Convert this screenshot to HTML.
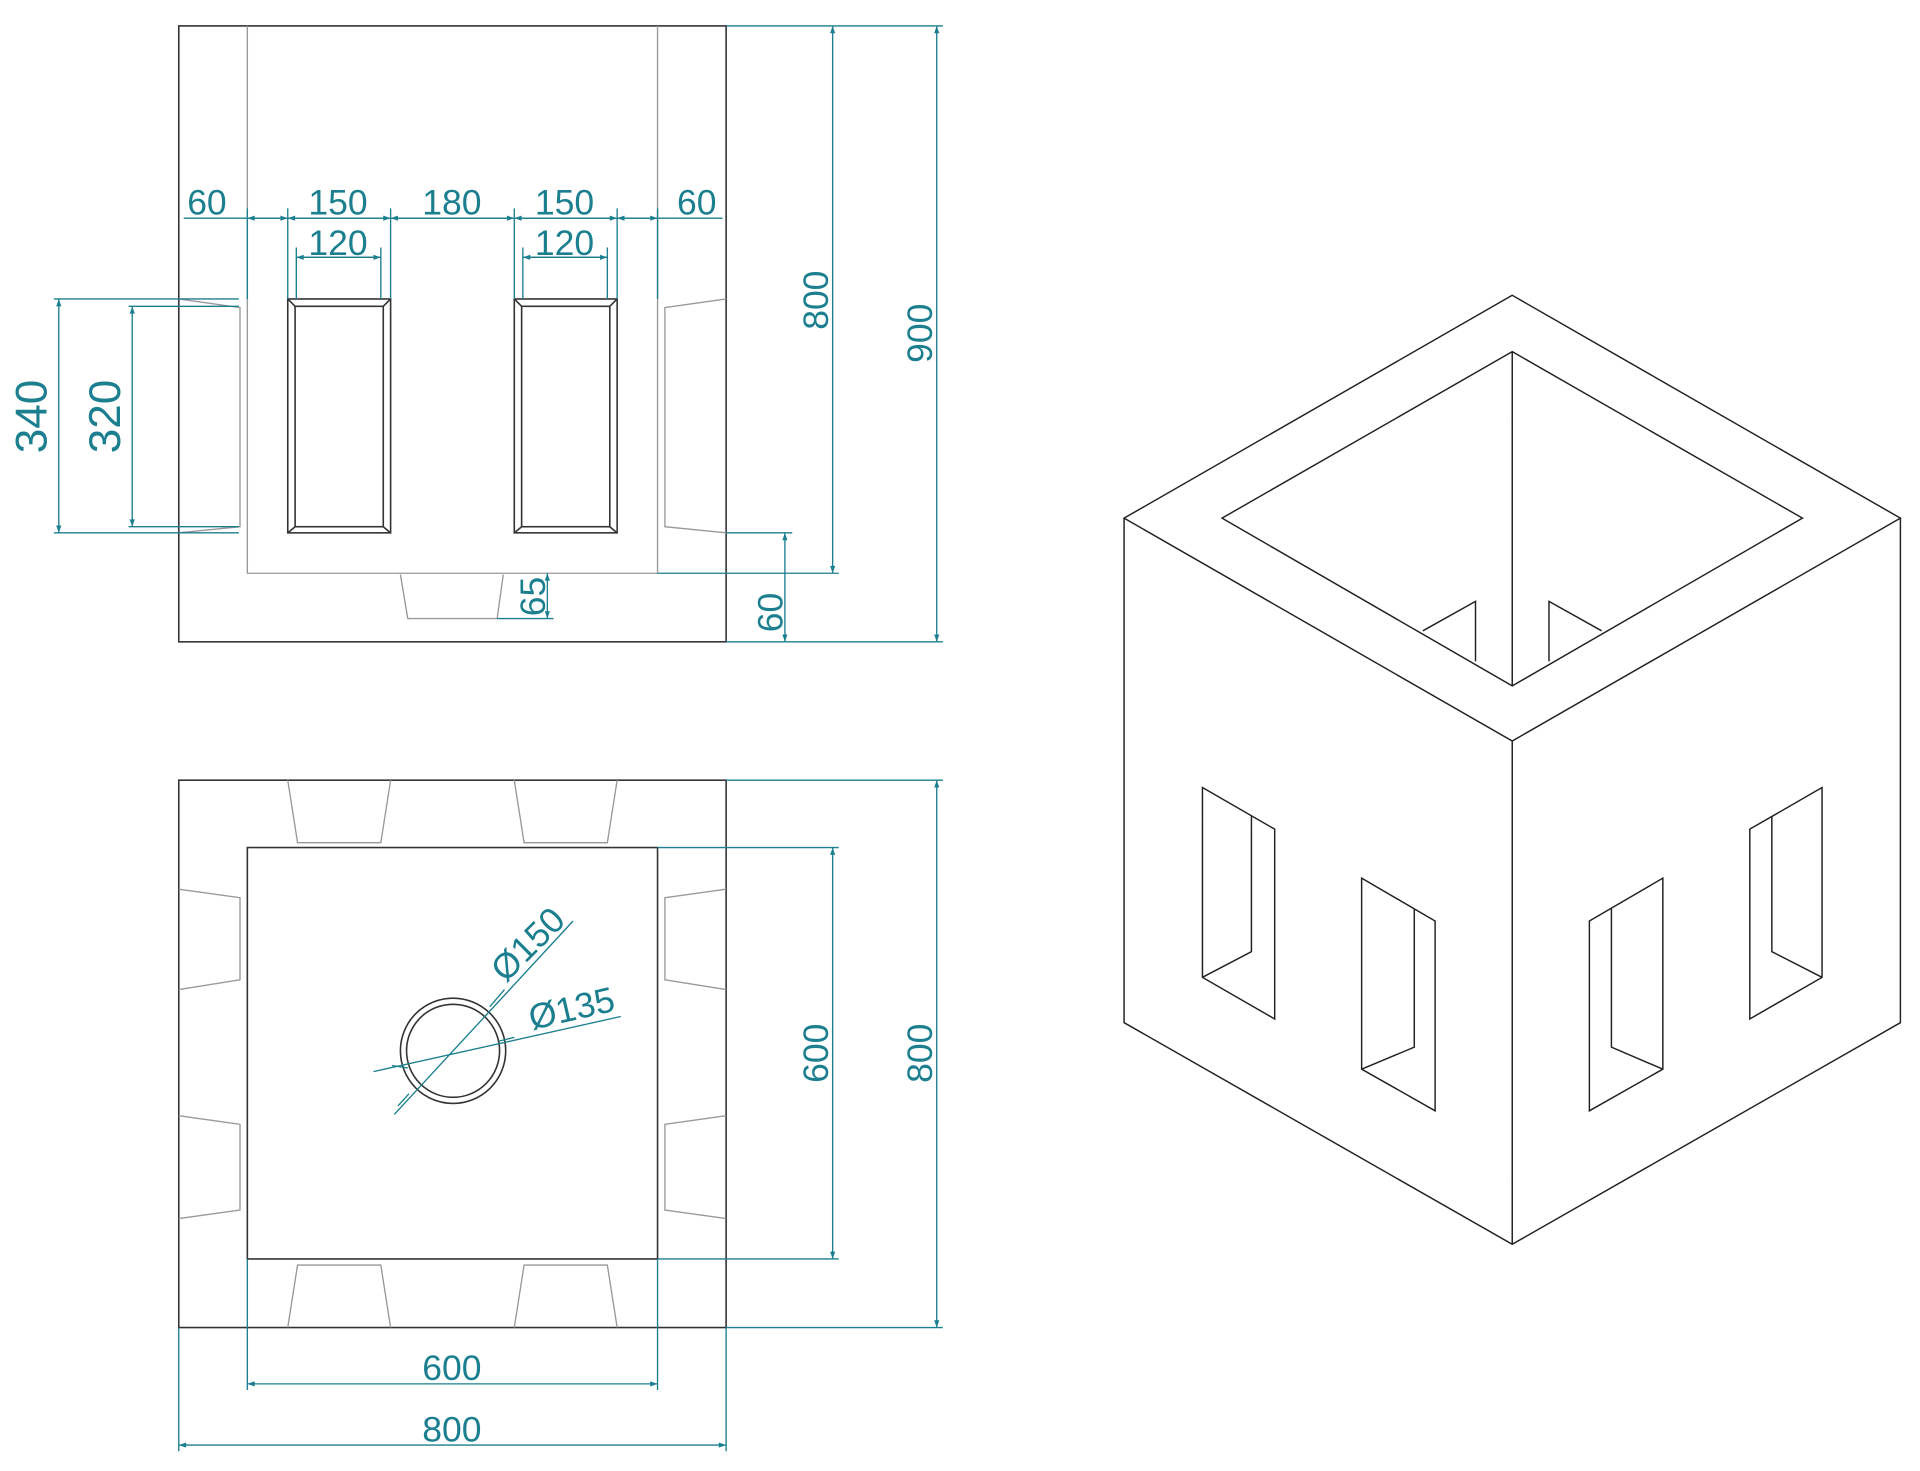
<!DOCTYPE html>
<html><head><meta charset="utf-8"><style>html,body{margin:0;padding:0;background:#fff}svg{display:block}</style></head>
<body>
<svg width="1920" height="1471" viewBox="0 0 1568 1201" xmlns="http://www.w3.org/2000/svg" font-family="Liberation Sans, sans-serif">
<defs>
<marker id="a" viewBox="0 0 10 10" refX="10" refY="5" markerWidth="10" markerHeight="6" orient="auto-start-reverse" markerUnits="userSpaceOnUse"><path d="M0,1.5 L10,5 L0,8.5z" fill="#1b7f8f"/></marker>
</defs>
<rect width="1568" height="1201" fill="#fff"/>
<!-- FRONT ELEVATION -->
<g fill="none" stroke="#333" stroke-width="1.3">
<rect x="146" y="21" width="447" height="503"/>
<rect x="235" y="244" width="84" height="191"/><rect x="241" y="250" width="72" height="180"/>
<path d="M235,244L241,250M319,244L313,250M235,435L241,430M319,435L313,430"/>
<rect x="420" y="244" width="84" height="191"/><rect x="426" y="250" width="72" height="180"/>
<path d="M420,244L426,250M504,244L498,250M420,435L426,430M504,435L498,430"/>
</g>
<g fill="none" stroke="#999" stroke-width="1.1">
<path d="M202,21V468H537V21"/>
<path d="M146,244L196,251V430L146,435"/>
<path d="M593,244L543,251V430L593,435"/>
<path d="M327,469L333,505H406L411,469"/>
</g>
<!-- PLAN -->
<g fill="none" stroke="#333" stroke-width="1.3">
<rect x="146" y="637" width="447" height="447"/>
<rect x="202" y="692" width="335" height="336"/>
<circle cx="370" cy="858" r="43"/><circle cx="370" cy="858" r="38"/>
</g>
<g fill="none" stroke="#999" stroke-width="1.1">
<path d="M235,637L243,688H311L319,637M420,637L428,688H496L504,637"/>
<path d="M235,1084L243,1033H311L319,1084M420,1084L428,1033H496L504,1084"/>
<path d="M146,726L196,733V800L146,808M146,911L196,918V988L146,995"/>
<path d="M593,726L543,733V800L593,808M593,911L543,918V988L593,995"/>
</g>
<!-- DIMENSIONS -->
<g stroke="#1b7f8f" stroke-width="1.1" fill="none">
<path d="M150,178H590M242,210H311M427,210H496"/>
<path d="M202,170V244M235,170V244M319,170V244M420,170V244M504,170V244M537,170V244M242,202V244M311,202V244M427,202V244M496,202V244"/>
<path d="M44,244H195M105,250H195M44,435H195M105,430H195"/>
<path d="M593,21H770M537,468H685M593,524H770M593,435H647M406,505H452"/>
<path d="M593,637H770M537,692H685M537,1028H685M593,1084H770"/>
<path d="M202,1028V1135M537,1028V1135M146,1084V1185M593,1084V1185"/>
<path d="M322,910L468,752M305,875L507,830"/>
</g>
<g stroke="#1b7f8f" stroke-width="1.1" fill="none" marker-start="url(#a)" marker-end="url(#a)">
<path d="M202,178H235"/><path d="M235,178H319"/><path d="M319,178H420"/><path d="M420,178H504"/><path d="M504,178H537"/>
<path d="M242,210H311"/><path d="M427,210H496"/>
<path d="M48,244V435"/><path d="M108,250V430"/>
<path d="M680,21V468"/><path d="M765,21V524"/><path d="M641,435V524"/><path d="M447,468V505"/>
<path d="M680,692V1028"/><path d="M765,637V1084"/>
<path d="M202,1130H537"/><path d="M146,1180H593"/>
</g>
<path d="M400,822L412,808M333,872L320,870M408,850L420,847M325,903L334,893" stroke="#1b7f8f" stroke-width="1.1"/>
<g fill="#1b7f8f" font-size="29" text-anchor="middle">
<text x="169" y="175">60</text><text x="276" y="175">150</text><text x="369" y="175">180</text><text x="461" y="175">150</text><text x="569" y="175">60</text>
<text x="276" y="208">120</text><text x="461" y="208">120</text>
<text font-size="36" transform="translate(38,340) rotate(-90)">340</text>
<text font-size="36" transform="translate(98,340) rotate(-90)">320</text>
<text transform="translate(676,245) rotate(-90)">800</text>
<text transform="translate(761,272) rotate(-90)">900</text>
<text transform="translate(639,500) rotate(-90)">60</text>
<text transform="translate(445,487) rotate(-90)">65</text>
<text transform="translate(676,860) rotate(-90)">600</text>
<text transform="translate(761,860) rotate(-90)">800</text>
<text x="369" y="1127">600</text><text x="369" y="1177">800</text>
<text transform="translate(438,778) rotate(-45)">Ø150</text>
<text transform="translate(469,833) rotate(-13)">Ø135</text>
</g>
<!-- ISOMETRIC -->
<g fill="none" stroke="#222" stroke-width="1.2">
<path d="M1235,241L918,423L1235,605L1552,423Z"/>
<path d="M918,423V835L1235,1016L1552,835V423M1235,605V1016"/>
<path d="M1235,287L998,423L1235,560L1472,423Z M1235,287V560"/>
<path d="M1162,515L1205,491V540M1265,540V491L1308,515"/>
<path d="M982,643L1041,677V832L982,798Z M1022,666V777L982,798"/>
<path d="M1112,717L1172,752V907L1112,873Z M1155,742V855L1112,873"/>
<path d="M1298,752L1358,717V873L1298,907Z M1316,742V855L1358,873"/>
<path d="M1429,677L1488,643V798L1429,832Z M1447,667V777L1488,798"/>
</g>
</svg>
</body></html>
